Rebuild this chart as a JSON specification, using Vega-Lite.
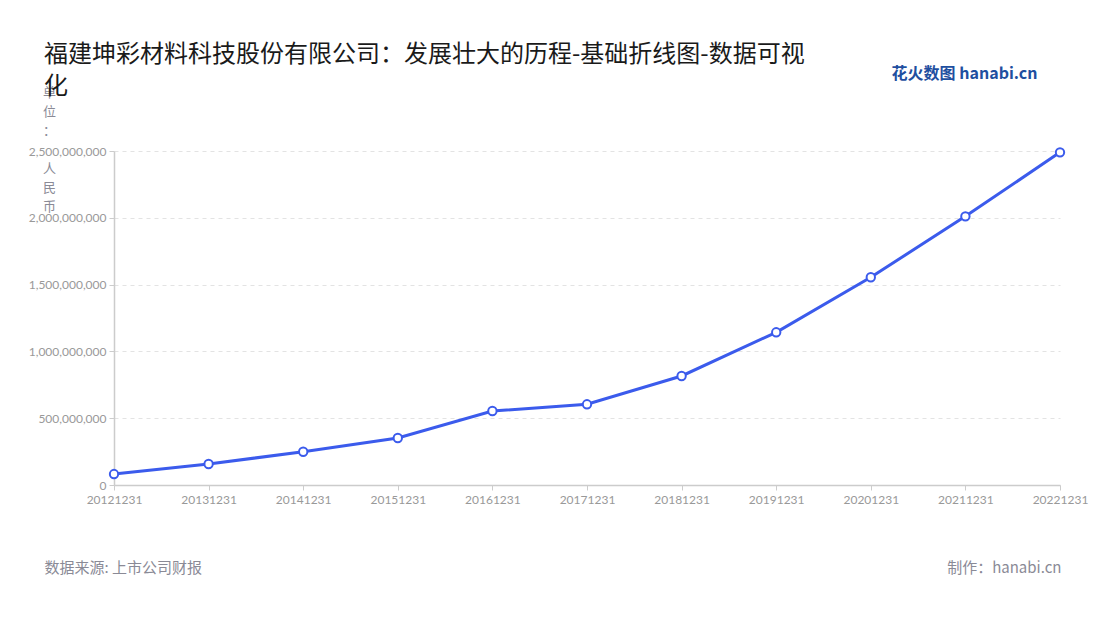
{
  "$schema": "https://vega.github.io/schema/vega-lite/v6.json",
  "width": 946,
  "height": 334,
  "autosize": {"type": "none"},
  "padding": {"left": 114, "top": 151, "right": 40, "bottom": 135},
  "background": "white",
  "title": {
    "text": ["福建坤彩材料科技股份有限公司：发展壮大的历程-基础折线图-数据可视", "化"],
    "anchor": "start",
    "frame": "group",
    "dx": -70,
    "dy": 94,
    "offset": 60,
    "fontSize": 24,
    "fontWeight": "normal",
    "font": "Noto Sans CJK SC",
    "color": "#1a1a1a",
    "lineHeight": 32,
    "baseline": "top"
  },
  "data": {
    "values": [
      {"date": "20121231", "value": 82000000},
      {"date": "20131231", "value": 157000000},
      {"date": "20141231", "value": 249000000},
      {"date": "20151231", "value": 352000000},
      {"date": "20161231", "value": 554000000},
      {"date": "20171231", "value": 604000000},
      {"date": "20181231", "value": 816000000},
      {"date": "20191231", "value": 1143000000},
      {"date": "20201231", "value": 1555000000},
      {"date": "20211231", "value": 2011000000},
      {"date": "20221231", "value": 2490000000}
    ]
  },
  "layer": [
    {
      "mark": {
        "type": "line",
        "color": "#3b5bec",
        "strokeWidth": 3,
        "point": {"filled": true, "fill": "white", "stroke": "#3b5bec", "strokeWidth": 2, "size": 70, "opacity": 1}
      },
      "encoding": {
        "x": {
          "field": "date",
          "type": "ordinal",
          "sort": null,
          "scale": {"type": "point", "padding": 0},
          "axis": {
            "title": "数据来源: 上市公司财报",
            "titleFont": "Noto Sans CJK SC",
            "titleFontSize": 15,
            "titleFontWeight": "normal",
            "titleColor": "#8a8a96",
            "titleAnchor": "start",
            "titleAlign": "left",
            "titleBaseline": "middle",
            "titleX": -70,
            "titleY": 82,
            "labelAngle": 0,
            "labelFont": "Lato",
            "labelFontSize": 12,
            "labelColor": "#999999",
            "labelPadding": 4,
            "tickSize": 5,
            "tickColor": "#cccccc",
            "domainColor": "#cccccc",
            "domainWidth": 1.5,
            "grid": false
          }
        },
        "y": {
          "field": "value",
          "type": "quantitative",
          "scale": {"domain": [0, 2500000000]},
          "axis": {
            "title": ["单", "位", "：", "\u2800", "人", "民", "币"],
            "titleFont": "Noto Sans CJK SC",
            "titleFontSize": 13,
            "titleFontWeight": "normal",
            "titleColor": "#8a8a96",
            "titleAngle": 0,
            "titleAlign": "center",
            "titleBaseline": "top",
            "titleX": -65,
            "titleY": -65,
            "titleLineHeight": 19,
            "values": [0, 500000000, 1000000000, 1500000000, 2000000000, 2500000000],
            "format": ",.0f",
            "labelFont": "Lato",
            "labelFontSize": 12,
            "labelColor": "#999999",
            "labelPadding": 3,
            "tickSize": 5,
            "tickColor": "#cccccc",
            "domainColor": "#cccccc",
            "domainWidth": 1.5,
            "grid": true,
            "gridColor": "#e3e3e3",
            "gridDash": [4, 4],
            "gridWidth": 1
          }
        }
      }
    },
    {
      "mark": {"type": "point", "opacity": 0},
      "encoding": {
        "x": {
          "field": "date",
          "type": "ordinal",
          "sort": null,
          "scale": {"type": "point", "padding": 0},
          "axis": {
            "orient": "top",
            "title": "花火数图 hanabi.cn",
            "titleFont": "Noto Sans CJK SC",
            "titleFontSize": 16,
            "titleFontWeight": "bold",
            "titleColor": "#1f4fa0",
            "titleAnchor": "start",
            "titleAlign": "right",
            "titleBaseline": "middle",
            "titleX": 923,
            "titleY": -78,
            "labels": false,
            "ticks": false,
            "domain": false,
            "grid": false
          }
        },
        "y": {
          "field": "value",
          "type": "quantitative",
          "scale": {"domain": [0, 2500000000]},
          "axis": {
            "orient": "right",
            "title": "制作：hanabi.cn",
            "titleFont": "Noto Sans CJK SC",
            "titleFontSize": 15,
            "titleFontWeight": "normal",
            "titleColor": "#8a8a96",
            "titleAngle": 0,
            "titleAlign": "right",
            "titleBaseline": "middle",
            "titleX": 1,
            "titleY": 416,
            "labels": false,
            "ticks": false,
            "domain": false,
            "grid": false
          }
        }
      }
    }
  ],
  "resolve": {"scale": {"x": "independent", "y": "independent"}, "axis": {"x": "independent", "y": "independent"}},
  "config": {"view": {"stroke": null}}
}
